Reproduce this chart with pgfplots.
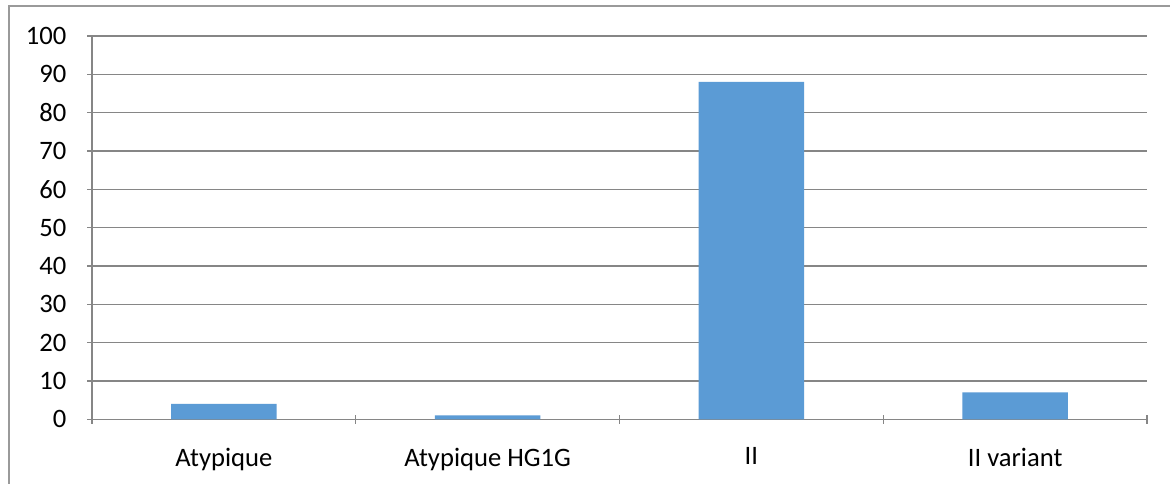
\documentclass[border=0pt]{standalone}
\usepackage{fontspec}
\setmainfont{Carlito}
\usepackage{pgfplots}
\pgfplotsset{compat=1.18}
\definecolor{barblue}{HTML}{5B9BD5}
\definecolor{gridgray}{HTML}{868686}
\definecolor{framegray}{HTML}{9A9A9A}
\begin{document}
\begin{tikzpicture}
\path[use as bounding box] (0,0) rectangle (585pt,241.5pt);
\fill[white] (0,0) rectangle (585pt,241.5pt);
% outer chart frame (right and bottom edges fall outside the picture)
\draw[framegray, line width=0.65pt] (4.5pt,-5pt) -- (4.5pt,238.5pt) -- (600pt,238.5pt);
\begin{axis}[
    at={(46pt,31.85pt)}, anchor=south west,
    scale only axis,
    width=527.5pt, height=191.65pt,
    ybar,
    bar width=0.4,
    xmin=-0.5, xmax=3.5,
    ymin=0, ymax=100,
    ytick={0,10,...,100},
    xtick={0,1,2,3},
    xticklabels={Atypique, Atypique HG1G, II, II variant},
    minor xtick={-0.5,0.5,1.5,2.5,3.5},
    major x tick style={draw=none},
    tick align=outside,
    major tick length=4.5pt,
    minor tick length=4.5pt,
    every tick/.style={gridgray, line width=0.6pt},
    minor x tick style={gridgray, line width=0.6pt},
    ymajorgrids,
    major grid style={gridgray, line width=0.6pt},
    axis lines=left,
    axis line style={gridgray, line width=0.6pt, -},
    font=\fontsize{13.3}{15}\selectfont,
    /pgf/number format/assume math mode=true,
    yticklabel style={anchor=east, xshift=-7pt},
    xticklabel style={anchor=north, yshift=-8.5pt},
]
\addplot[fill=barblue, draw=none] coordinates {(0,4) (1,1) (2,88) (3,7)};
\end{axis}
\end{tikzpicture}
\end{document}
